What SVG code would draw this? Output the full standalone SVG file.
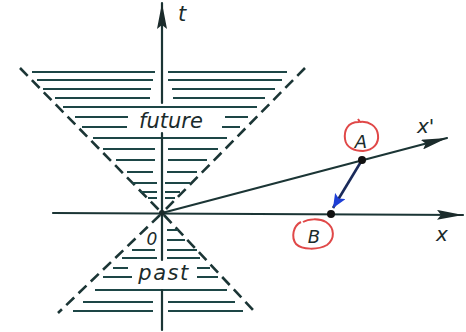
<svg xmlns="http://www.w3.org/2000/svg" width="466" height="332" viewBox="0 0 466 332">
<defs>
<style>
.ax{stroke:#1b3535;stroke-width:2.2;fill:none;stroke-linecap:round}
.h{stroke:#1d4646;stroke-width:1.9;fill:none}
.cone{stroke:#1b3535;stroke-width:2.6;fill:none;stroke-dasharray:11 6}
.lbl{font-family:"DejaVu Sans",sans-serif;font-style:italic;fill:#1b2b2b}
.red{stroke:#e04848;stroke-width:2;fill:none}
</style>
<marker id="ah" viewBox="0 0 26 10" refX="26" refY="5" markerWidth="26" markerHeight="10" markerUnits="userSpaceOnUse" orient="auto">
<path d="M0,0 L26,5 L0,10 L4,5 Z" fill="#1b2b2b"/>
</marker>
<marker id="bh" viewBox="0 0 14 12" refX="14" refY="6" markerWidth="14" markerHeight="12" markerUnits="userSpaceOnUse" orient="auto">
<path d="M0,0 L14,6 L0,12 L3,6 Z" fill="#1e3fd6"/>
</marker>
</defs>
<rect width="466" height="332" fill="#ffffff"/>
<g id="lightcone">
<line class="cone" x1="20" y1="68" x2="160" y2="211"/>
<line class="cone" x1="305" y1="68" x2="164" y2="211"/>
<line class="cone" x1="160" y1="215" x2="58" y2="313"/>
<line class="cone" x1="164" y1="215" x2="255" y2="312"/>
</g>
<g id="future-hatch">
<path class="h" d="M32,72H155M168,72H287M37,80H153M168,80H282M43,89H151M172,89H275M55,98H150M173,98H265M63,107H257M75,117H128M225,117H248M82,127H127M222,127H240M93,138H227M103,149H155M168,149H218M116,160H155M168,160H207M127,172H153M167,172H197M132,183H157M165,183H190M140,192H157M165,192H180M148,198H157M165,198H175"/>
</g>
<g id="past-hatch">
<path class="h" d="M167,230H178M167,240H185M132,250H155M167,250H197M122,258H157M167,258H200M113,268H128M197,268H210M103,277H132M197,277H218M95,290H227M83,302H153M168,302H235M73,311H153M168,311H243"/>
</g>
<g id="connectors">
<line class="ax" x1="162" y1="330" x2="162" y2="290"/>
<line class="ax" x1="162" y1="260" x2="162" y2="133"/>
<line class="ax" x1="162" y1="103" x2="162" y2="3" marker-end="url(#ah)"/>
<line class="ax" x1="53" y1="213" x2="463" y2="215" marker-end="url(#ah)"/>
<line class="ax" x1="162" y1="213" x2="447" y2="138" marker-end="url(#ah)"/>
<line x1="362" y1="160" x2="333" y2="208" stroke="#1a2a5a" stroke-width="2.6" marker-end="url(#bh)"/>
</g>
<g id="origin">
<circle cx="162" cy="213" r="3" fill="#1b2b2b"/>
<text class="lbl" x="152" y="245" font-size="17" text-anchor="middle">0</text>
</g>
<g id="t-label"><text class="lbl" x="178" y="21" font-size="21">t</text></g>
<g id="x-label"><text class="lbl" x="442" y="241" font-size="20" text-anchor="middle">x</text></g>
<g id="xprime-label"><text class="lbl" x="417" y="133" font-size="20">x'</text></g>
<g id="future-label"><text class="lbl" x="171" y="128" font-size="21" text-anchor="middle">future</text></g>
<g id="past-label"><text class="lbl" x="164" y="280" font-size="21" letter-spacing="1.5" text-anchor="middle">past</text></g>
<g id="A">
<circle cx="362" cy="160" r="4" fill="#111"/>
<path class="red" d="M359,122 C347,122 344,131 345,139 C346,148 355,151 363,151 C374,150 379,143 378,135 C377,126 369,121 360,122 L358,119"/>
<text class="lbl" x="361" y="148" font-size="18" text-anchor="middle">A</text>
</g>
<g id="B">
<circle cx="331" cy="214" r="4" fill="#111"/>
<path class="red" d="M301,222 C293,226 291,237 296,244 C302,250 318,250 327,245 C335,239 335,228 326,222 C319,218 308,219 303,222"/>
<text class="lbl" x="314" y="243" font-size="18" text-anchor="middle">B</text>
</g>
</svg>
